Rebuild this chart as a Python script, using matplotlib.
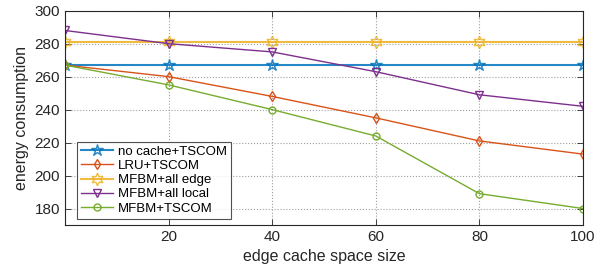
import matplotlib
matplotlib.use('Agg')
import matplotlib.pyplot as plt

plt.rcParams['font.family'] = ['Liberation Sans', 'DejaVu Sans']

cache_size = [0, 20, 40, 60, 80, 100]
no_cache = [267, 267, 267, 267, 267, 267]
lru = [267, 260, 248, 235, 221, 213]
all_edge = [281, 281, 281, 281, 281, 281]
all_local = [288, 280, 275, 263, 249, 242]
mfbm = [267, 255, 240, 224, 189, 180]

fig = plt.figure(figsize=(6.15, 2.74), dpi=100)
ax = fig.add_axes([65 / 615, 1 - 225 / 274, (583 - 65) / 615, (225 - 10.7) / 274])

ax.plot(cache_size, no_cache, color=(0, 0.447, 0.741), lw=1.5, alpha=0.85, marker='*', ms=9,
        mfc='none', mew=1.0, label='no cache+TSCOM')
ax.plot(cache_size, lru, color=(0.85, 0.325, 0.098), lw=1.0, marker='d', ms=5,
        mfc='none', mew=1.0, label='LRU+TSCOM')
ax.plot(cache_size, all_edge, color=(0.929, 0.694, 0.125), lw=1.5, alpha=0.85,
        marker=(6, 1, 0), ms=9, mfc='none', mew=1.0, label='MFBM+all edge')
ax.plot(cache_size, all_local, color=(0.494, 0.184, 0.556), lw=1.0, marker='v', ms=6,
        mfc='none', mew=1.0, label='MFBM+all local')
ax.plot(cache_size, mfbm, color=(0.466, 0.674, 0.188), lw=1.0, marker='o', ms=5,
        mfc='none', mew=1.0, label='MFBM+TSCOM')

ax.set_xlim(0, 100)
ax.set_ylim(170, 300)
ax.set_xticks([20, 40, 60, 80, 100])
ax.set_yticks([180, 200, 220, 240, 260, 280, 300])
ax.tick_params(direction='in', top=True, right=True, labelsize=11, colors='#262626',
               length=4, width=0.6)
ax.grid(True, linestyle=':', color='#a0a0a0', lw=0.8)
for s in ax.spines.values():
    s.set_color('#262626')
    s.set_linewidth(0.8)

ax.set_xlabel('edge cache space size', fontsize=11.5, color='#262626', labelpad=4)
ax.set_ylabel('energy consumption', fontsize=11.5, color='#262626', labelpad=4)

leg = ax.legend(loc='lower left', bbox_to_anchor=(0.024, 0.03), fontsize=9.5,
                frameon=True, fancybox=False, edgecolor='#262626', borderpad=0.3,
                labelspacing=0.15, handlelength=2.4, handletextpad=0.4, borderaxespad=0)
leg.get_frame().set_linewidth(0.8)

fig.savefig('out.png', dpi=100)
